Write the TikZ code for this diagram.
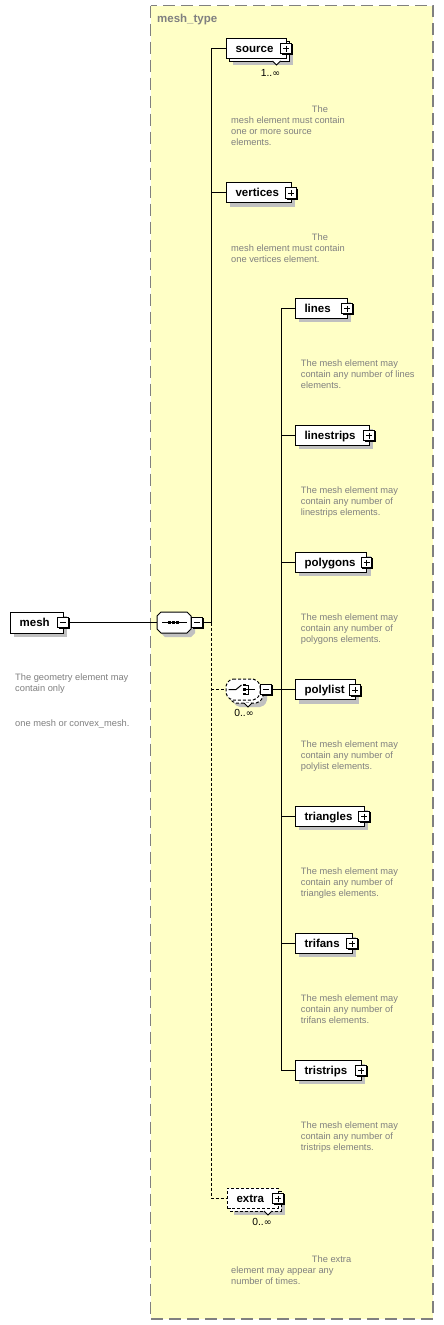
\documentclass[tikz,border=0pt]{standalone}
\usepackage{fontspec}
\setmainfont{Liberation Sans}
\newfontfamily\djv{DejaVu Sans}
\definecolor{ybg}{RGB}{255,255,198}
\definecolor{bgray}{RGB}{128,128,128}
\definecolor{shad}{RGB}{192,192,192}
\definecolor{annotc}{RGB}{128,128,128}
\tikzset{
  conn/.style={line width=1pt},
  dconn/.style={line width=1pt, dash pattern=on 3pt off 2pt},
  elembox/.style={draw, fill=white, line width=1pt, minimum height=20pt, inner sep=0pt},
  optbox/.style={elembox, dash pattern=on 3pt off 2pt},
  lbl/.style={font=\fontsize{11.5}{13}\selectfont\bfseries, inner sep=0pt, anchor=base west},
  annot/.style={font=\fontsize{9.3}{11}\selectfont, text=annotc, align=left, inner sep=0pt, anchor=north west},
  mult/.style={font=\fontsize{10.3}{12}\selectfont, inner sep=0pt, anchor=base},
  pm/.style={draw, fill=white, line width=1pt, minimum size=10.5pt, inner sep=0pt},
  symb/.style={draw=none, minimum width=34pt, minimum height=21pt, inner sep=0pt}
}
\newcommand\infsym{{\djv\fontsize{9.5}{12}\selectfont ∞}}
% plus/minus box: name, cx, cy, 1=plus 0=minus
\newcommand\pmbox[4]{%
  \node[pm] (#1) at (#2,#3) {};
  \draw[line width=1pt] ({#2+6},{#3-4.5}) -- ({#2+6},{#3+6}) -- ({#2-4.5},{#3+6});
  \draw[line width=1pt] ({#2-3},#3) -- ({#2+3},#3);
  \ifnum#4=1 \draw[line width=1pt] (#2,{#3-3}) -- (#2,{#3+3});\fi
}
% element: name, left, right, cy, label, style
\newcommand\elem[6]{%
  \fill[shad] ({#2+4},{#4-6}) rectangle ({#3+4},{#4+14});
  \node[#6, minimum width={#3-#2}] (#1) at ({(#2+#3)/2},#4) {};
  \node[lbl] (#1-l) at ({#2+9.3},{#4+4.3}) {#5};
  \pmbox{#1-p}{#3}{#4+0.5}{1}
}
% octagon: x1,y1,x2,y2,c
\newcommand\octa[5]{({#1+#5},#2) -- ({#3-#5},#2) -- (#3,{#2+#5}) -- (#3,{#4-#5}) -- ({#3-#5},#4) -- ({#1+#5},#4) -- (#1,{#4-#5}) -- (#1,{#2+#5}) -- cycle}
\begin{document}
\begin{tikzpicture}[x=1pt,y=-1pt]
\useasboundingbox (0,0) rectangle (444,1325);
\fill[white] (0,0) rectangle (444,1325);
% complex type frame
\draw[fill=ybg, draw=bgray, line width=1.3pt, dash pattern=on 12pt off 6pt] (150.5,5.5) rectangle (433,1319);
\node[font=\fontsize{11.5}{13}\selectfont\bfseries, text=bgray, inner sep=0pt, anchor=base west] (mt) at (157,22.7) {mesh\_type};

% mesh element
\fill[shad] (14,616) rectangle (67,637);
\node[elembox, minimum width=53pt, minimum height=21pt] (mesh) at (36.5,622.5) {};
\node[lbl] (mesh-l) at (19.5,626.5) {mesh};
\pmbox{meshm}{63}{622.5}{0}
\node[annot] (a-mesh) at (15,674) {The geometry element may\\contain only\\[24pt]one mesh or convex\_mesh.};

% sequence compositor
\fill[shad] \octa{161}{616}{195}{637}{4};
\node[symb] (seq) at (174,622.5) {};
\draw[fill=white, line width=1pt] \octa{157}{612}{191}{633}{4};
\draw[line width=1pt] (162,622.5) -- (186.5,622.5);
\foreach \sx in {169.3,173.3,177.3} \fill (\sx-1.5,621) rectangle (\sx+1.5,624);
\pmbox{seqm}{197.2}{622.5}{0}

% source (1..inf)
\fill[shad] (233,45) rectangle (293,65);
\draw[fill=white, line width=1pt] (229,41) rectangle (289,61);
\node[elembox, minimum width=60pt] (source) at (256,48) {};
\node[lbl] (source-l) at (235.5,52.3) {source};
\pmbox{source-p}{286}{48.5}{1}
\draw[fill=white, line width=0.8pt] (272.5,61) -- (276.5,65) -- (280.5,61);
\node[mult] (m-source) at (270.5,76) {1..\infsym};
\node[annot] (a-source) at (231,106) {\hspace*{80.7pt}The\\mesh element must contain\\one or more source\\elements.};

% vertices
\elem{vertices}{226}{291}{192.5}{vertices}{elembox}
\node[annot] (a-vertices) at (231,233.3) {\hspace*{80.7pt}The\\mesh element must contain\\one vertices element.};

% choice compositor (0..inf)
\fill[shad, rounded corners=2pt] \octa{233}{686}{267}{707}{5};
\draw[fill=white, line width=1pt, dash pattern=on 3pt off 2pt, rounded corners=2pt] \octa{229}{682}{263}{703}{5};
\node[symb] (choice) at (243,689.5) {};
\draw[fill=white, line width=1pt, dash pattern=on 3pt off 2pt, rounded corners=2pt] \octa{226}{679}{260}{700}{5};
\draw[fill=white, line width=0.8pt] (244,703) -- (248,707) -- (252,703);
\draw[line width=1pt] (228.5,689.5) -- (236,689.5) -- (241.5,685);
\foreach \sy in {685,689.5,694} \fill (243,\sy-1.4) rectangle (245.8,\sy+1.4);
\draw[line width=1pt] (245.8,685) -- (248.5,685) -- (248.5,694) -- (245.8,694);
\draw[line width=1pt] (245.8,689.5) -- (255,689.5);
\pmbox{choicem}{266.2}{689.5}{0}
\node[mult] (m-choice) at (244,716.5) {0..\infsym};

% elements of the choice
\elem{lines}{295}{347}{308}{lines}{elembox}
\node[annot] (a-lines) at (300.7,360) {The mesh element may\\contain any number of lines\\elements.};
\elem{linestrips}{295}{369}{435}{linestrips}{elembox}
\node[annot] (a-linestrips) at (300.7,487) {The mesh element may\\contain any number of\\linestrips elements.};
\elem{polygons}{295}{366.7}{562}{polygons}{elembox}
\node[annot] (a-polygons) at (300.7,614) {The mesh element may\\contain any number of\\polygons elements.};
\elem{polylist}{295}{355}{689.5}{polylist}{elembox}
\node[annot] (a-polylist) at (300.7,741) {The mesh element may\\contain any number of\\polylist elements.};
\elem{triangles}{295}{364}{816}{triangles}{elembox}
\node[annot] (a-triangles) at (300.7,868) {The mesh element may\\contain any number of\\triangles elements.};
\elem{trifans}{295}{352}{943}{trifans}{elembox}
\node[annot] (a-trifans) at (300.7,995) {The mesh element may\\contain any number of\\trifans elements.};
\elem{tristrips}{295}{361}{1070}{tristrips}{elembox}
\node[annot] (a-tristrips) at (300.7,1122) {The mesh element may\\contain any number of\\tristrips elements.};

% extra (optional, 0..inf)
\fill[shad] (234,1195) rectangle (285,1215);
\draw[fill=white, line width=1pt, dash pattern=on 3pt off 2pt] (230,1191) rectangle (281,1211);
\node[optbox, minimum width=51pt] (extra) at (252.5,1198) {};
\node[lbl] (extra-l) at (236.3,1202.3) {extra};
\pmbox{extra-p}{278}{1198.5}{1}
\draw[fill=white, line width=0.8pt] (264,1211) -- (268,1215) -- (272,1211);
\node[mult] (m-extra) at (262,1225) {0..\infsym};
\node[annot] (a-extra) at (231,1255.7) {\hspace*{80.7pt}The extra\\element may appear any\\number of times.};

% connectors
\coordinate (bus1) at (211,622.5);
\coordinate (bus2) at (281,689.5);
\draw[conn] (meshm.east) -- (seq.west);
\draw[conn] (seqm.east) -- (bus1);
\draw[conn] (bus1) |- (source.west);
\draw[conn] (bus1) |- (vertices.west);
\draw[dconn] (bus1) |- (extra.west);
\draw[dconn] (bus1 |- choice.west) -- (choice.west);
\draw[conn] (choicem.east) -- (polylist.west);
\draw[conn] (bus2) |- (lines.west);
\draw[conn] (bus2) |- (linestrips.west);
\draw[conn] (bus2) |- (polygons.west);
\draw[conn] (bus2) |- (triangles.west);
\draw[conn] (bus2) |- (trifans.west);
\draw[conn] (bus2) |- (tristrips.west);
\end{tikzpicture}
\end{document}
